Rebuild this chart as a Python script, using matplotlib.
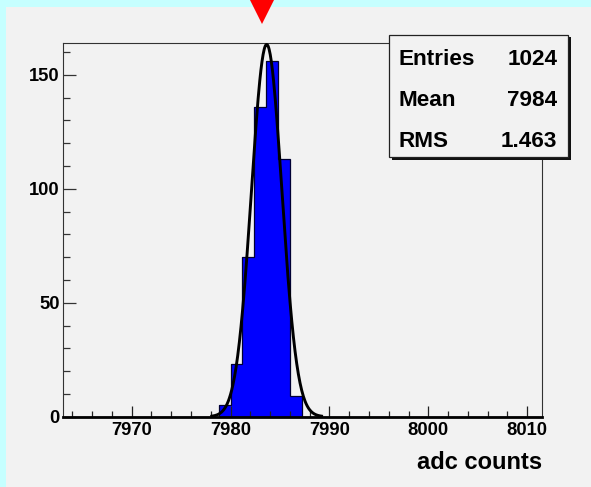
import numpy as np
import matplotlib
matplotlib.use("Agg")
import matplotlib.pyplot as plt
from matplotlib.patches import Rectangle
from matplotlib.transforms import blended_transform_factory

# ---- data ----
bin_low = 7963.2
bin_width = 1.2
counts = [0, 0, 0, 0, 0, 0, 0, 0, 0, 0,
          0, 0, 0, 5, 23, 70, 136, 156, 113, 9,
          0, 0, 0, 0, 0, 0, 0, 0, 0, 0,
          0, 0, 0, 0, 0, 0, 0, 0, 0, 0]
gauss_amp = 163.3
gauss_mean = 7983.65
gauss_sigma = 1.54
fit_range = [7978.1, 7989.2]
marker_x = 7983.2
stats_labels = ["Entries", "Mean", "RMS"]
stats_values = ["1024", "7984", "1.463"]
x_label = "adc counts"
x_major = [7970, 7980, 7990, 8000, 8010]
y_major = [0, 50, 100, 150]

W, H = 591, 487
FONT = "Liberation Sans"
CYAN = "#C6FFFF"
GRAY = "#F2F2F2"

def fx(x):
    return x / W

def fy(y):
    return 1 - y / H

fig = plt.figure(figsize=(W / 100, H / 100), dpi=100)
fig.patch.set_facecolor(CYAN)
fig.patches.append(Rectangle((fx(6), 0), 1 - fx(6), fy(6.7), transform=fig.transFigure,
                             facecolor=GRAY, edgecolor="none", zorder=-1))

ax = fig.add_axes([fx(63.3), fy(416.7), fx(542.3) - fx(63.3), fy(43.3) - fy(416.7)])
ax.set_zorder(1)
ax.set_facecolor(GRAY)

edges = bin_low + bin_width * np.arange(len(counts) + 1)
ax.stairs(counts, edges, fill=True, color="#0000FF", zorder=1)
ax.stairs(counts, edges, fill=False, color="#000033", linewidth=0.9, zorder=1.2)

xs = np.linspace(fit_range[0], fit_range[1], 200)
ys = gauss_amp * np.exp(-0.5 * ((xs - gauss_mean) / gauss_sigma) ** 2)
ax.plot(xs, ys, color="black", linewidth=2.1, zorder=3)

ax.set_xlim(7963.08, 8011.53)
ax.set_ylim(0, 163.8)

ax.set_xticks(x_major)
ax.set_xticks(np.arange(7964, 8012, 2), minor=True)
ax.set_yticks(y_major)
ax.set_yticks(np.arange(0, 164, 10), minor=True)

ax.tick_params(axis="x", which="major", direction="in", length=7.9, width=0.9,
               color="#222222", pad=4.0)
ax.tick_params(axis="x", which="minor", direction="in", length=4.3, width=0.9,
               color="#222222")
ax.tick_params(axis="y", which="major", direction="in", length=9.4, width=0.9,
               color="#333333", pad=2.5)
ax.tick_params(axis="y", which="minor", direction="in", length=4.8, width=0.9,
               color="#333333")
for lab in ax.get_xticklabels() + ax.get_yticklabels():
    lab.set_fontfamily(FONT)
    lab.set_fontweight("bold")
    lab.set_fontsize(13.2)

for s in ["top", "right", "left"]:
    ax.spines[s].set_linewidth(0.8)
    ax.spines[s].set_color("#333333")
ax.spines["bottom"].set_linewidth(2.0)
ax.spines["bottom"].set_color("black")

fig.text(fx(542), fy(469), x_label, ha="right", va="baseline",
         fontfamily=FONT, fontweight="bold", fontsize=17)

# stats box with shadow
bl, bt, br, bb = 389, 35, 568, 157
fig.patches.append(Rectangle((fx(bl + 2.5), fy(bb + 2.5)), fx(br - bl), fy(bt) - fy(bb),
                             transform=fig.transFigure, facecolor="#111111",
                             edgecolor="none", zorder=5))
fig.patches.append(Rectangle((fx(bl), fy(bb)), fx(br - bl), fy(bt) - fy(bb),
                             transform=fig.transFigure, facecolor=GRAY,
                             edgecolor="#222222", linewidth=0.9, zorder=6))
for i, (lab, val) in enumerate(zip(stats_labels, stats_values)):
    yb = 65 + i * 41.2
    fig.text(fx(398.5), fy(yb), lab, ha="left", va="baseline", fontfamily=FONT,
             fontweight="bold", fontsize=16.2, zorder=7)
    fig.text(fx(557.5), fy(yb), val, ha="right", va="baseline", fontfamily=FONT,
             fontweight="bold", fontsize=16.2, zorder=7)

# red triangle marker above the frame
trans = blended_transform_factory(ax.transData, fig.transFigure)
ax.plot([marker_x], [fy(11.7)], marker="v", markersize=17.0, color="#FF0000",
        markeredgewidth=0, linestyle="none", transform=trans, clip_on=False, zorder=8)

fig.savefig("out.png", dpi=100, facecolor=fig.get_facecolor())
